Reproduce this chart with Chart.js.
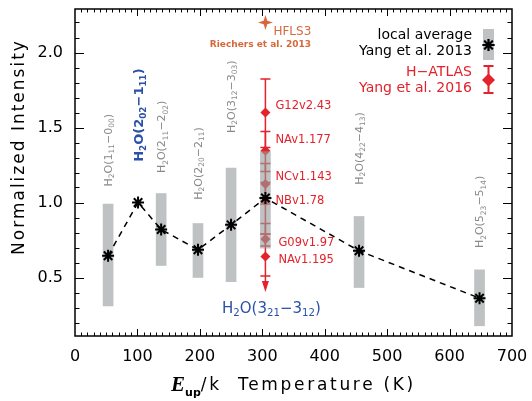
<!DOCTYPE html>
<html>
<head>
<meta charset="utf-8">
<script src="https://cdn.jsdelivr.net/npm/chart.js@4.4.0/dist/chart.umd.min.js"></script>
<style>
  html, body { margin: 0; padding: 0; background: #fff; }
</style>
</head>
<body>
<canvas id="waterChart" width="532" height="401"></canvas>
<script>
// local average line ratios (Yang et al. 2013)
const eUp = [53, 101, 138, 197, 250, 305, 455, 648];
const avgRatio = [0.645, 1.0, 0.82, 0.685, 0.851, 1.03, 0.678, 0.362];
const rangeLo = [0.311, null, 0.58, 0.50, 0.473, 0.696, 0.433, 0.178];
const rangeHi = [0.99, null, 1.06, 0.86, 1.23, 1.34, 0.907, 0.551];
const lineLabels = ['H_2O(1_11\u22120_00)', 'H_2O(2_02\u22121_11)', 'H_2O(2_11\u22122_02)', 'H_2O(2_20\u22122_11)',
                    'H_2O(3_12\u22123_03)', 'H_2O(3_21\u22123_12)', 'H_2O(4_22\u22124_13)', 'H_2O(5_23\u22125_14)'];
const labelBase = [1.107, 1.271, 1.196, 1.018, 1.463, 0.297, 1.118, 0.696]; // where each label starts

// H-ATLAS sources at the 3_21-3_12 line (Yang et al. 2016)
const hatlasE = 305;
const hatlasNames = ['G12v2.43', 'NAv1.177', 'NCv1.143', 'NBv1.78', 'G09v1.97', 'NAv1.195'];
const hatlasRatio = [1.60, 1.345, 1.123, 1.01, 0.756, 0.64];
const hatlasLo = [1.367, 1.207, 0.99, 0.79, 0.71, 0.51];
const hatlasHi = [1.824, 1.473, 1.26, 1.133, 0.86, 0.79];
const hatlasUpperLimit = [false, false, false, false, false, true];
const hatlasLabelY = [1.64, 1.418, 1.169, 1.007, 0.733, 0.618];

// HFLS3 (Riechers et al. 2013)
const hflsE = 305;
const hflsRatio = 2.2;

const xTicks = [0, 100, 200, 300, 400, 500, 600, 700];
const yTicks = [0.5, 1.0, 1.5, 2.0];

const RED = '#e3222b';
const ORANGE = '#d6693c';
const BLUE = '#2a50a8';
const GREY_TXT = '#8a8a8a';
const BAR = 'rgba(150,156,156,0.62)';
const FONT = '"DejaVu Sans", sans-serif';

// small 4-point star for HFLS3
function starImage() {
    const c = document.createElement('canvas');
    c.width = 15; c.height = 15;
    const g = c.getContext('2d');
    g.fillStyle = ORANGE;
    g.beginPath();
    g.moveTo(7.5, 0); g.lineTo(9.3, 5.7); g.lineTo(15, 7.5); g.lineTo(9.3, 9.3);
    g.lineTo(7.5, 15); g.lineTo(5.7, 9.3); g.lineTo(0, 7.5); g.lineTo(5.7, 5.7);
    g.closePath();
    g.fill();
    return c;
}

// text with _123 subscripts
function drawRich(ctx, str, x, y, size, weight, color, align) {
    const parts = str.split(/_(\d+)/);
    const fontFor = i => weight + ' ' + (i % 2 ? size * 0.68 : size) + 'px ' + FONT;
    let w = 0;
    parts.forEach((p, i) => { ctx.font = fontFor(i); w += ctx.measureText(p).width; });
    let cx = align === 'center' ? x - w / 2 : x;
    ctx.fillStyle = color;
    ctx.textBaseline = 'alphabetic';
    ctx.textAlign = 'left';
    parts.forEach((p, i) => {
        ctx.font = fontFor(i);
        ctx.fillText(p, cx, y + (i % 2 ? size * 0.22 : 0));
        cx += ctx.measureText(p).width;
    });
}

function drawDiamond(ctx, x, y, r, color) {
    ctx.fillStyle = color;
    ctx.beginPath();
    ctx.moveTo(x, y - r); ctx.lineTo(x + r, y); ctx.lineTo(x, y + r); ctx.lineTo(x - r, y);
    ctx.closePath();
    ctx.fill();
}

// red error bars go under everything else
const errorBarPlugin = {
    id: 'errorBars',
    beforeDatasetsDraw(chart) {
        const ctx = chart.ctx, xs = chart.scales.x, ys = chart.scales.y;
        const xp = xs.getPixelForValue(hatlasE);
        ctx.save();
        ctx.strokeStyle = RED;
        ctx.fillStyle = RED;
        ctx.lineWidth = 1.5;
        hatlasRatio.forEach((v, i) => {
            const top = ys.getPixelForValue(hatlasHi[i]);
            const bot = ys.getPixelForValue(hatlasLo[i]);
            ctx.beginPath();
            ctx.moveTo(xp, top); ctx.lineTo(xp, bot);
            ctx.moveTo(xp - 5, top); ctx.lineTo(xp + 5, top);
            ctx.moveTo(xp - 5, bot); ctx.lineTo(xp + 5, bot);
            ctx.stroke();
            if (hatlasUpperLimit[i]) {
                ctx.beginPath();
                ctx.moveTo(xp, bot); ctx.lineTo(xp, bot + 10);
                ctx.stroke();
                ctx.beginPath();
                ctx.moveTo(xp - 3.5, bot + 5); ctx.lineTo(xp, bot + 16); ctx.lineTo(xp + 3.5, bot + 5);
                ctx.closePath();
                ctx.fill();
            }
        });
        ctx.restore();
    }
};

// frame, inward ticks, annotations, legend and axis titles
const decorPlugin = {
    id: 'decor',
    afterDatasetsDraw(chart) {
        const ctx = chart.ctx, xs = chart.scales.x, ys = chart.scales.y;
        const a = chart.chartArea;
        ctx.save();

        // ticks
        ctx.strokeStyle = '#000';
        ctx.lineWidth = 1;
        ctx.beginPath();
        for (let v = 10; v < 700; v += 10) {
            const p = Math.round(xs.getPixelForValue(v)) + 0.5;
            const len = v % 100 === 0 ? 7 : 3.5;
            ctx.moveTo(p, a.bottom); ctx.lineTo(p, a.bottom - len);
            ctx.moveTo(p, a.top); ctx.lineTo(p, a.top + len);
        }
        for (let i = 2; i <= 22; i++) {
            const p = Math.round(ys.getPixelForValue(i / 10)) + 0.5;
            const len = i % 5 === 0 ? 9 : 4.5;
            ctx.moveTo(a.left, p); ctx.lineTo(a.left + len, p);
            ctx.moveTo(a.right, p); ctx.lineTo(a.right - len, p);
        }
        ctx.stroke();
        ctx.lineWidth = 1.5;
        ctx.strokeRect(a.left, a.top, a.right - a.left, a.bottom - a.top);

        // transition labels
        lineLabels.forEach((lab, i) => {
            const xp = xs.getPixelForValue(eUp[i]);
            const yp = ys.getPixelForValue(labelBase[i]);
            if (i === 5) {
                drawRich(ctx, lab, xp + 6, yp + 5, 15, 'normal', BLUE, 'center');
                return;
            }
            const blue = i === 1;
            const size = blue ? 13 : 11;
            ctx.save();
            ctx.translate(xp, yp);
            ctx.rotate(-Math.PI / 2);
            drawRich(ctx, lab, 0, size * 0.36, size, blue ? 'bold' : 'normal', blue ? BLUE : GREY_TXT, 'left');
            ctx.restore();
        });

        // H-ATLAS names
        ctx.font = '11.5px ' + FONT;
        ctx.fillStyle = RED;
        ctx.textAlign = 'left';
        ctx.textBaseline = 'middle';
        const hx = xs.getPixelForValue(hatlasE);
        hatlasNames.forEach((n, i) => {
            ctx.fillText(n, hx + 10 + (i > 3 ? 3 : 0), ys.getPixelForValue(hatlasLabelY[i]));
        });

        // HFLS3
        const fx = xs.getPixelForValue(hflsE), fy = ys.getPixelForValue(hflsRatio);
        ctx.fillStyle = ORANGE;
        ctx.font = '12px ' + FONT;
        ctx.fillText('HFLS3', fx + 8, fy + 9);
        ctx.font = 'bold 9px ' + FONT;
        ctx.textAlign = 'center';
        ctx.fillText('Riechers et al. 2013', fx - 5, fy + 22);

        // legend
        ctx.textAlign = 'right';
        ctx.font = '14px ' + FONT;
        ctx.fillStyle = '#000';
        ctx.fillText('local average', 472, 35);
        ctx.fillText('Yang et al. 2013', 472, 51);
        ctx.fillStyle = RED;
        ctx.fillText('H\u2212ATLAS', 472, 72);
        ctx.fillText('Yang et al. 2016', 472, 88);
        ctx.fillStyle = BAR;
        ctx.fillRect(483, 29, 11, 31);
        Chart.helpers.drawPoint(ctx, { pointStyle: 'star', radius: 6, borderWidth: 2 }, 488.5, 45);
        ctx.strokeStyle = '#000';
        ctx.lineWidth = 2;
        ctx.stroke();
        ctx.strokeStyle = RED;
        ctx.beginPath();
        ctx.moveTo(488.5, 66); ctx.lineTo(488.5, 93);
        ctx.moveTo(483.5, 66); ctx.lineTo(493.5, 66);
        ctx.moveTo(483.5, 93); ctx.lineTo(493.5, 93);
        ctx.stroke();
        drawDiamond(ctx, 488.5, 80, 6.5, RED);

        // axis titles
        ctx.fillStyle = '#000';
        ctx.textBaseline = 'middle';
        ctx.letterSpacing = '2px';
        ctx.font = '17px ' + FONT;
        ctx.save();
        ctx.translate(20, 147);
        ctx.rotate(-Math.PI / 2);
        ctx.textAlign = 'center';
        ctx.fillText('Normalized Intensity', 0, 0);
        ctx.restore();

        const rest = '/k  Temperature (K)';
        ctx.textAlign = 'left';
        ctx.letterSpacing = '0px';
        ctx.font = 'bold italic 21px "Liberation Serif", serif';
        const wE = ctx.measureText('E').width;
        ctx.font = 'bold 11px ' + FONT;
        const wSub = ctx.measureText('up').width;
        ctx.letterSpacing = '2.7px';
        ctx.font = '17px ' + FONT;
        const wRest = ctx.measureText(rest).width;
        let tx = (a.left + a.right) / 2 - (wE + wSub + wRest) / 2;
        const ty = 386;
        ctx.letterSpacing = '0px';
        ctx.font = 'bold italic 21px "Liberation Serif", serif';
        ctx.fillText('E', tx, ty);
        tx += wE;
        ctx.font = 'bold 11px ' + FONT;
        ctx.fillText('up', tx, ty + 7);
        tx += wSub;
        ctx.letterSpacing = '2.7px';
        ctx.font = '17px ' + FONT;
        ctx.fillText(rest, tx, ty);
        ctx.restore();
    }
};

const ctx = document.getElementById('waterChart').getContext('2d');
const waterChart = new Chart(ctx, {
    type: 'scatter',
    data: {
        datasets: [
            {
                type: 'line',
                data: eUp.map((x, i) => ({ x: x, y: avgRatio[i] })),
                borderColor: '#000',
                borderWidth: 1.5,
                borderDash: [6, 5],
                pointStyle: 'star',
                pointRadius: 6,
                pointBorderWidth: 2,
                pointBorderColor: '#000',
                fill: false,
                order: 0
            },
            {
                type: 'bar',
                data: eUp.map((x, i) => ({ x: x, y: [rangeLo[i], rangeHi[i]] })).filter(d => d.y[0] !== null),
                backgroundColor: BAR,
                borderWidth: 0,
                barThickness: 10,
                order: 1
            },
            {
                data: hatlasRatio.map(y => ({ x: hatlasE, y: y })),
                pointStyle: 'rectRot',
                pointRadius: 5,
                backgroundColor: RED,
                borderWidth: 0,
                order: 2
            },
            {
                data: [{ x: hflsE, y: hflsRatio }],
                pointStyle: starImage(),
                order: 2
            }
        ]
    },
    options: {
        responsive: false,
        animation: false,
        layout: { padding: { left: 0, right: 20, top: 9, bottom: 0 } },
        plugins: {
            legend: { display: false },
            tooltip: { enabled: false }
        },
        scales: {
            x: {
                type: 'linear',
                min: 0,
                max: 700,
                offset: false,
                grid: { display: false, drawTicks: false },
                border: { display: false },
                afterBuildTicks: s => { s.ticks = xTicks.map(v => ({ value: v })); },
                afterFit: s => { s.height = 65; s.paddingLeft = 0; s.paddingRight = 0; },
                ticks: {
                    padding: 11,
                    maxRotation: 0,
                    autoSkip: false,
                    color: '#000',
                    font: { family: 'DejaVu Sans', size: 16 }
                }
            },
            y: {
                min: 0.11,
                max: 2.29,
                grid: { display: false, drawTicks: false },
                border: { display: false },
                afterBuildTicks: s => { s.ticks = yTicks.map(v => ({ value: v })); },
                afterFit: s => { s.width = 75; s.paddingTop = 0; s.paddingBottom = 0; },
                ticks: {
                    padding: 12,
                    color: '#000',
                    font: { family: 'DejaVu Sans', size: 16 },
                    callback: v => v.toFixed(1)
                }
            }
        }
    },
    plugins: [errorBarPlugin, decorPlugin]
});
</script>
</body>
</html>
